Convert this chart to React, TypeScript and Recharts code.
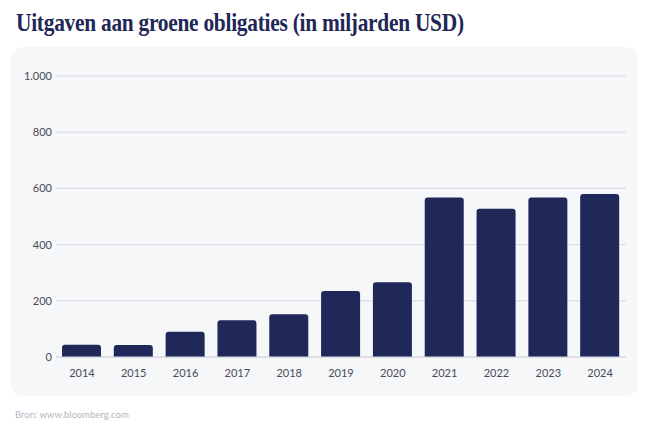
import { BarChart, Bar, XAxis, YAxis, CartesianGrid } from 'recharts';

const years = ['2014', '2015', '2016', '2017', '2018', '2019', '2020', '2021', '2022', '2023', '2024'];
const issuance = [44, 43, 90, 131, 152, 235, 266, 568, 528, 568, 580];
const yTicks = [0, 200, 400, 600, 800, 1000];

const data = years.map((year, i) => ({ year, value: issuance[i] }));

const NAVY = '#1f2858';
const TICK_FONT = 'Lato, "Open Sans", sans-serif';

const formatTick = (v: number) => v.toLocaleString('nl-NL');

export default function App() {
  return (
    <div style={{ position: 'absolute', left: 0, top: 0, width: 650, height: 433, background: '#fff' }}>
      <div
        style={{
          position: 'absolute',
          left: 16,
          top: 9,
          fontFamily: '"Liberation Serif", "DejaVu Serif", serif',
          fontWeight: 700,
          fontSize: 25,
          color: '#1e2756',
          letterSpacing: -0.3,
          whiteSpace: 'nowrap',
          transform: 'scaleX(0.855)',
          transformOrigin: 'left top',
        }}
      >
        Uitgaven aan groene obligaties (in miljarden USD)
      </div>
      <div
        style={{
          position: 'absolute',
          left: 11,
          top: 47,
          width: 627,
          height: 349,
          background: '#f6f7f9',
          borderRadius: 12,
        }}
      >
        <BarChart width={627} height={349} data={data} margin={{ top: 29, right: 12, bottom: 9, left: 0 }} barSize={39}>
          <CartesianGrid vertical={false} stroke="#d5d8de" strokeWidth={1} />
          <XAxis
            dataKey="year"
            axisLine={{ stroke: '#d5d8de' }}
            tickLine={false}
            height={30}
            tickMargin={6}
            tick={{ fill: '#454a58', fontSize: 11, fontFamily: TICK_FONT }}
          />
          <YAxis
            domain={[0, 1000]}
            ticks={yTicks}
            width={45}
            axisLine={false}
            tickLine={false}
            tickSize={0}
            tickMargin={4}
            tickFormatter={formatTick}
            tick={{ fill: '#454a58', fontSize: 11, fontFamily: TICK_FONT }}
          />
          <Bar dataKey="value" fill={NAVY} radius={[3, 3, 0, 0]} isAnimationActive={false} />
        </BarChart>
      </div>
      <div
        style={{
          position: 'absolute',
          left: 15,
          top: 409,
          fontFamily: TICK_FONT,
          fontSize: 9.5,
          color: '#b3b7c2',
        }}
      >
        Bron: www.bloomberg.com
      </div>
    </div>
  );
}
